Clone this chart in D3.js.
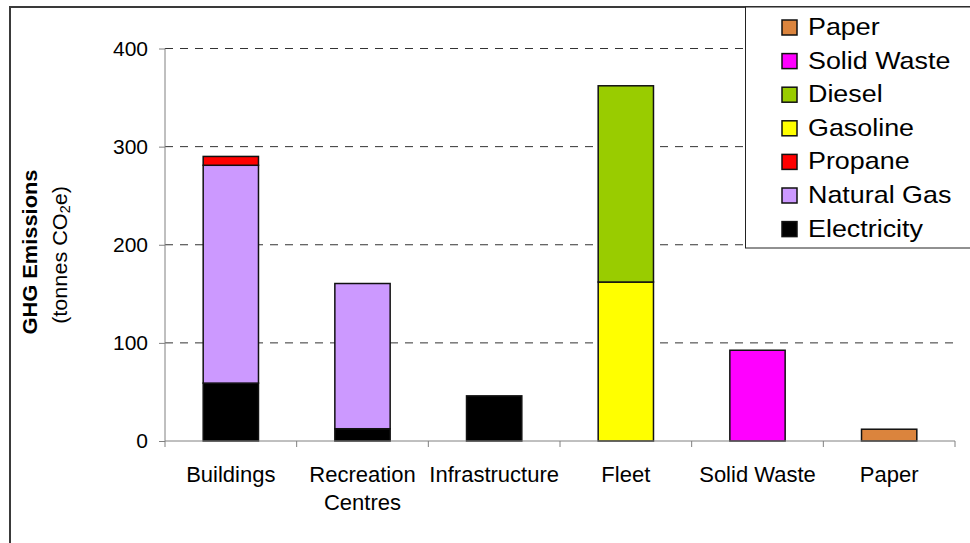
<!DOCTYPE html>
<html>
<head>
<meta charset="utf-8">
<script src="https://cdn.jsdelivr.net/npm/d3@7"></script>
<style>
  body { margin: 0; background: #fff; }
  svg { display: block; font-family: "Liberation Sans", Arial, sans-serif; }
</style>
</head>
<body>
<div id="chart"></div>
<script>
// categories and stacked series (tonnes CO2e)
const categories = ["Buildings", "Recreation Centres", "Infrastructure", "Fleet", "Solid Waste", "Paper"];
const seriesNames = ["Electricity", "Natural Gas", "Propane", "Gasoline", "Diesel", "Solid Waste", "Paper"];
const seriesColors = ["#000000", "#CC99FF", "#FF0000", "#FFFF00", "#99CC00", "#FF00FF", "#DB843D"];

const electricity = [59, 12.5, 46, 0, 0, 0];
const naturalGas = [222, 148, 0, 0, 0, 0];
const propane = [9, 0, 0, 0, 0, 0];
const gasoline = [0, 0, 0, 162, 0, 0];
const diesel = [0, 0, 0, 200, 0, 0];
const solidWaste = [0, 0, 0, 0, 92.5, 0];
const paper = [0, 0, 0, 0, 0, 12];

const yTicks = [0, 100, 200, 300, 400];

function generateChart() {
    let svg = d3.select("#chart")
        .append("svg")
        .attr("width", 970)
        .attr("height", 543)

    const seriesValues = [electricity, naturalGas, propane, gasoline, diesel, solidWaste, paper];
    var table = categories.map((c, i) => {
        let row = { category: c };
        seriesNames.forEach((s, k) => row[s] = seriesValues[k][i]);
        return row;
    });

    var colorScale = d3.scaleOrdinal().domain(seriesNames).range(seriesColors);

    var x = d3.scaleBand()
        .domain(categories)
        .range([165, 955])
        .paddingInner(0.58)
        .paddingOuter(0.29);

    var y = d3.scaleLinear()
        .domain([0, 400])
        .range([441, 48.5]);

    // outer frame
    svg.append("rect")
        .attr("x", 10).attr("y", 7)
        .attr("width", 1000).attr("height", 600)
        .attr("fill", "none")
        .attr("stroke", "#3a3a3a")
        .attr("stroke-width", 2);

    // gridlines
    svg.append("g")
        .selectAll("line")
        .data(yTicks.filter(d => d > 0))
        .enter()
        .append("line")
        .attr("x1", 165).attr("x2", 955)
        .attr("y1", d => y(d)).attr("y2", d => y(d))
        .attr("stroke", "#333")
        .attr("stroke-width", 1)
        .attr("stroke-dasharray", "8,7");

    // bars
    var stacked = d3.stack().keys(seriesNames)(table);
    svg.append("g")
        .selectAll("g")
        .data(stacked)
        .enter()
        .append("g")
        .attr("fill", d => colorScale(d.key))
        .selectAll("rect")
        .data(d => d.filter(p => p[1] - p[0] > 0))
        .enter()
        .append("rect")
        .attr("x", d => x(d.data.category))
        .attr("width", x.bandwidth())
        .attr("y", d => y(d[1]))
        .attr("height", d => y(d[0]) - y(d[1]))
        .attr("stroke", "#111")
        .attr("stroke-width", 1.5);

    // y axis
    let yAxis = svg.append("g")
        .attr("transform", "translate(165,0)")
        .call(d3.axisLeft(y).tickValues(yTicks).tickSize(6).tickPadding(11));
    yAxis.select(".domain").attr("stroke", "#808080").attr("d", "M0," + y(400) + "V" + y(0));
    yAxis.selectAll(".tick line").attr("stroke", "#808080");
    yAxis.selectAll(".tick text")
        .attr("fill", "#000")
        .style("font-size", "21px")
        .style("font-family", "Liberation Sans, Arial, sans-serif");

    // x axis with ticks between categories
    let xg = svg.append("g");
    xg.append("line")
        .attr("x1", 165).attr("x2", 955)
        .attr("y1", y(0)).attr("y2", y(0))
        .attr("stroke", "#808080");
    xg.selectAll(".xtick")
        .data(d3.range(categories.length + 1))
        .enter()
        .append("line")
        .attr("class", "xtick")
        .attr("x1", i => x.range()[0] + i * x.step())
        .attr("x2", i => x.range()[0] + i * x.step())
        .attr("y1", y(0)).attr("y2", y(0) + 6)
        .attr("stroke", "#808080");

    let xlabels = xg.selectAll(".xlabel")
        .data(categories)
        .enter()
        .append("text")
        .attr("class", "xlabel")
        .attr("text-anchor", "middle")
        .attr("x", d => x(d) + x.bandwidth() / 2)
        .attr("y", 482)
        .style("font-size", "22px")
        .text(d => d);

    // wrap labels wider than a category slot
    xlabels.each(function (d) {
        let t = d3.select(this);
        if (this.getComputedTextLength() > x.step()) {
            let words = d.split(" ");
            t.text(null);
            words.forEach((w, i) => {
                t.append("tspan")
                    .attr("x", x(d) + x.bandwidth() / 2)
                    .attr("dy", i == 0 ? 0 : 28)
                    .text(w);
            });
        }
    });

    // y axis title
    svg.append("text")
        .attr("transform", "translate(37,252) rotate(-90) scale(1.04,1)")
        .attr("text-anchor", "middle")
        .style("font-size", "21px")
        .style("font-weight", "bold")
        .text("GHG Emissions");

    let sub = svg.append("text")
        .attr("transform", "translate(67,255) rotate(-90) scale(1.03,1)")
        .attr("text-anchor", "middle")
        .style("font-size", "21px");
    sub.append("tspan").text("(tonnes CO");
    sub.append("tspan").attr("dy", 3).style("font-size", "14px").text("2");
    sub.append("tspan").attr("dy", -3).text("e)");

    // legend
    svg.append("rect")
        .attr("x", 745.5).attr("y", 7)
        .attr("width", 240).attr("height", 241)
        .attr("fill", "#fff")
        .attr("stroke", "#222")
        .attr("stroke-width", 1);

    var legendItems = seriesNames.slice().reverse();
    let legend = svg.append("g")
        .attr("class", "legend")
        .selectAll("g")
        .data(legendItems)
        .enter()
        .append("g")
        .attr("transform", (d, i) => "translate(0," + (35 + i * 33.6) + ")");

    legend.append("rect")
        .attr("x", 782).attr("y", -15)
        .attr("width", 15).attr("height", 15)
        .attr("fill", d => colorScale(d))
        .attr("stroke", "#111")
        .attr("stroke-width", 1.5);

    legend.append("text")
        .attr("transform", "translate(808,0) scale(1.12,1)")
        .style("font-size", "24px")
        .text(d => d);
}

generateChart();
</script>
</body>
</html>
